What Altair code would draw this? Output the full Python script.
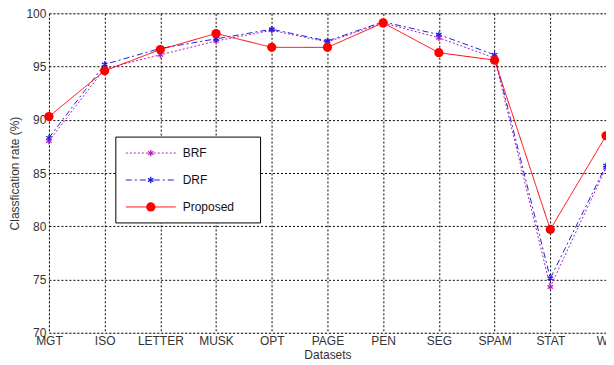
import altair as alt
import pandas as pd

datasets = ["MGT", "ISO", "LETTER", "MUSK", "OPT", "PAGE", "PEN", "SEG", "SPAM", "STAT", "WV"]
brf = [88.0, 94.8, 96.1, 97.4, 98.4, 97.3, 99.1, 97.7, 95.8, 74.3, 85.5]
drf = [88.3, 95.2, 96.7, 97.6, 98.5, 97.4, 99.2, 98.0, 96.1, 75.1, 85.7]
proposed = [90.3, 94.6, 96.6, 98.1, 96.8, 96.8, 99.1, 96.3, 95.6, 79.7, 88.5]

series_names = ["BRF", "DRF", "Proposed"]
series_colors = ["#b020c0", "#2020e0", "#ff0000"]

rows = []
for name, vals in zip(series_names, [brf, drf, proposed]):
    for d, v in zip(datasets, vals):
        rows.append({"Dataset": d, "Series": name, "Value": v})
df = pd.DataFrame(rows)

W, H = 558, 320
x = alt.X("Dataset:N", sort=datasets, scale=alt.Scale(type="point", padding=0),
          axis=alt.Axis(title="Datasets", labelAngle=0, grid=True, gridDash=[2, 2],
                        gridColor="#000", gridOpacity=1, gridWidth=1, domain=False,
                        ticks=False, labelPadding=3, labelFontSize=12, titleFontSize=12,
                        titlePadding=3, labelColor="#333", titleColor="#333", labelFont="Liberation Sans",
                        titleFont="Liberation Sans", titleFontWeight="normal"))
y = alt.Y("Value:Q", scale=alt.Scale(domain=[70, 100], nice=False),
          axis=alt.Axis(title="Classfication rate (%)", values=[70, 75, 80, 85, 90, 95, 100],
                        grid=True, gridDash=[2, 2], gridColor="#000", gridOpacity=1, gridWidth=1,
                        domain=False, ticks=False, labelPadding=3, labelFontSize=12, titleFontSize=12,
                        titlePadding=4, labelColor="#333", titleColor="#333", labelFont="Liberation Sans",
                        titleFont="Liberation Sans", titleFontWeight="normal"))

star = "M0,-1L0,1M-0.87,-0.5L0.87,0.5M-0.87,0.5L0.87,-0.5"

base = alt.Chart(df)

def series_layer(name, color, dash, marker):
    d = base.transform_filter(alt.datum.Series == name)
    line = d.mark_line(color=color, strokeDash=dash, strokeWidth=1).encode(x=x, y=y)
    if marker == "circle":
        pts = d.mark_point(shape="circle", filled=True, color=color, size=85, opacity=1).encode(x=x, y=y)
    else:
        pts = d.mark_point(shape=star, filled=False, color=color, size=40, strokeWidth=1.3, opacity=1).encode(x=x, y=y)
    return line + pts

layers = [
    series_layer("BRF", series_colors[0], [2, 2], "star"),
    series_layer("DRF", series_colors[1], [6, 3, 2, 3], "star"),
    series_layer("Proposed", series_colors[2], [1, 0], "circle"),
]

# legend
leg = pd.DataFrame({"Series": series_names, "color": series_colors, "row": [0, 1, 2]})
legbase = alt.Chart(leg)
box = alt.Chart(pd.DataFrame({"a": [0]})).mark_rect(fill="white", stroke="#000", strokeWidth=1).encode(
    x=alt.value(67), x2=alt.value(212), y=alt.value(124), y2=alt.value(210))
leg_layers = [box]
dashes = [[2, 2], [6, 3, 2, 3], [1, 0]]
for i, (n, c) in enumerate(zip(series_names, series_colors)):
    yy = 140 + i * 27
    sub = legbase.transform_filter(alt.datum.Series == n)
    leg_layers.append(sub.mark_rule(color=c, strokeDash=dashes[i], strokeWidth=1).encode(
        x=alt.value(77), x2=alt.value(127), y=alt.value(yy)))
    if i == 2:
        leg_layers.append(sub.mark_point(shape="circle", filled=True, color=c, size=85, opacity=1).encode(
            x=alt.value(102), y=alt.value(yy)))
    else:
        leg_layers.append(sub.mark_point(shape=star, filled=False, color=c, size=40, strokeWidth=1.3, opacity=1).encode(
            x=alt.value(102), y=alt.value(yy)))
    leg_layers.append(sub.mark_text(align="left", baseline="middle", fontSize=12, font="Liberation Sans", color="#111").encode(
        x=alt.value(134), y=alt.value(yy), text="Series:N"))

chart = alt.layer(*layers, *leg_layers).properties(
    width=W, height=H,
    autosize=alt.AutoSizeParams(type="none"),
    padding={"left": 41, "top": 5, "right": 0, "bottom": 30},
).configure_view(stroke="#555", strokeWidth=1.5).configure(background="white")

chart.save("out.html", embed_options={"renderer": "svg", "actions": False})
